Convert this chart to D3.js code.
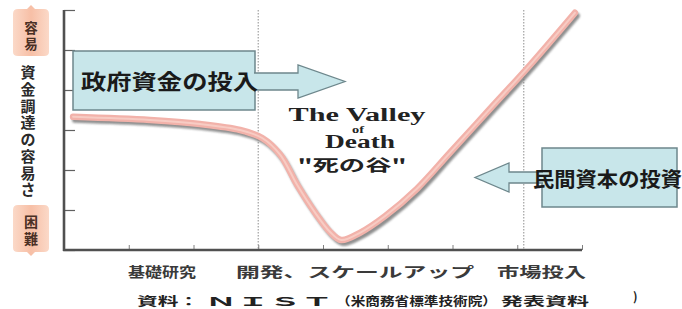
<!DOCTYPE html>
<html><head><meta charset="utf-8">
<script src="https://cdn.jsdelivr.net/npm/d3@7"></script>
<style>body{margin:0;background:#fff}svg{display:block}</style>
</head><body><svg id="c" width="682" height="309"></svg>
<script>
// ---- data ----
const stageLabels = ["基礎研究", "開発、スケールアップ", "市場投入"];
const stageBoundaries = [3.0, 7.1];
const xTicks = [0, 1, 2, 3, 4, 5, 6, 7, 8];
const yTicks = [0, 1, 2, 3, 4, 5, 6];
const curveX = [0.14, 1.33, 2.10, 2.72, 3.06, 3.34, 3.60, 3.88, 4.11, 4.28, 4.57, 4.96, 5.45, 5.96, 6.58, 7.20, 7.89];
const curveY = [3.33, 3.25, 3.15, 3.00, 2.80, 2.38, 1.63, 0.93, 0.45, 0.25, 0.43, 0.85, 1.53, 2.43, 3.53, 4.63, 5.93];
const yAxisTitle = "資金調達の容易さ";
const yTopLabel = "容易";
const yBottomLabel = "困難";
const govLabel = "政府資金の投入";
const privLabel = "民間資本の投資";
const valleyLines = ["The Valley", "of", "Death", "\"死の谷\""];
const sourceParts = ["資料：", "ＮＩＳＴ", "（米商務省標準技術院）", "発表資料"];

// ---- layout ----
const svg = d3.select("#c");
const JP = "'Noto Sans CJK JP','Noto Sans',sans-serif";
const x = d3.scaleLinear().domain([0, 8]).range([64, 582]);
const y = d3.scaleLinear().domain([0, 6]).range([250, 10]);

const defs = svg.append("defs");
defs.append("filter").attr("id", "blur").append("feGaussianBlur").attr("stdDeviation", 0.9);
const lg = defs.append("linearGradient").attr("id", "peach").attr("x1", 0).attr("x2", 1);
lg.append("stop").attr("offset", 0).attr("stop-color", "#fbd9c8");
lg.append("stop").attr("offset", 0.5).attr("stop-color", "#f7bfa6");
lg.append("stop").attr("offset", 1).attr("stop-color", "#fbd9c8");

// left peach markers
svg.append("path")
  .attr("d", "M13,14 Q13,9 18,9 L27,9 L31,5 L35,9 L44,9 Q49,9 49,14 L49,52 Q49,56 44,56 L18,56 Q13,56 13,52 Z")
  .attr("fill", "url(#peach)");
svg.append("path")
  .attr("d", "M13,210 Q13,205 18,205 L44,205 Q49,205 49,210 L49,248 Q49,252 44,252 L35,252 L31,256 L27,252 L18,252 Q13,252 13,248 Z")
  .attr("fill", "url(#peach)");
[...yTopLabel].forEach((ch, i) => svg.append("text").attr("x", 31).attr("y", 27 + i * 16)
  .attr("text-anchor", "middle").attr("dominant-baseline", "central")
  .attr("font-family", JP).attr("font-weight", 700).attr("font-size", 13.5).attr("fill", "#4a3025").text(ch));
[...yBottomLabel].forEach((ch, i) => svg.append("text").attr("x", 31).attr("y", 221 + i * 17)
  .attr("text-anchor", "middle").attr("dominant-baseline", "central")
  .attr("font-family", JP).attr("font-weight", 700).attr("font-size", 14).attr("fill", "#4a3025").text(ch));
[...yAxisTitle].forEach((ch, i) => svg.append("text").attr("x", 28).attr("y", 71.5 + i * 16.75)
  .attr("text-anchor", "middle").attr("dominant-baseline", "central")
  .attr("font-family", JP).attr("font-weight", 700).attr("font-size", 15).attr("fill", "#2a2a2a").text(ch));

// dotted stage boundaries
svg.selectAll("line.stage").data(stageBoundaries).enter().append("line")
  .attr("x1", d => x(d)).attr("x2", d => x(d)).attr("y1", y(6)).attr("y2", y(0))
  .attr("stroke", "#a8a8a8").attr("stroke-width", 1.3).attr("stroke-dasharray", "1.5,1.5");

// axes
const yAxis = d3.axisRight(y).tickValues(yTicks).tickSize(11).tickFormat("");
const gy = svg.append("g").attr("transform", `translate(${x(0)},0)`).call(yAxis);
gy.select(".domain").remove();
gy.selectAll(".tick line").attr("stroke", "#606060").attr("stroke-width", 1.2);
const xAxis = d3.axisTop(x).tickValues(xTicks).tickSize(5).tickFormat("");
const gx = svg.append("g").attr("transform", `translate(0,${y(0)})`).call(xAxis);
gx.select(".domain").remove();
gx.selectAll(".tick line").attr("stroke", "#808080").attr("stroke-width", 1);
svg.append("line").attr("x1", x(0)).attr("x2", x(0)).attr("y1", y(6)).attr("y2", y(0) + 1)
  .attr("stroke", "#505050").attr("stroke-width", 2.6);
svg.append("line").attr("x1", x(0) - 1).attr("x2", x(8)).attr("y1", y(0)).attr("y2", y(0))
  .attr("stroke", "#505050").attr("stroke-width", 2.6);

// curve
const pts = curveX.map((v, i) => [v, curveY[i]]);
const line = d3.line().x(d => x(d[0])).y(d => y(d[1])).curve(d3.curveCatmullRom.alpha(0.5));
svg.append("path").attr("d", line(pts)).attr("transform", "translate(2,3)")
  .attr("fill", "none").attr("stroke", "#7c7c7c").attr("stroke-width", 6)
  .attr("stroke-linecap", "round").attr("filter", "url(#blur)").attr("opacity", 0.85);
svg.append("path").attr("d", line(pts))
  .attr("fill", "none").attr("stroke", "#f2b2aa").attr("stroke-width", 6.5).attr("stroke-linecap", "round");
svg.append("path").attr("d", line(pts))
  .attr("fill", "none").attr("stroke", "#f7ccc4").attr("stroke-width", 2).attr("stroke-linecap", "round");

// government funding box + arrow
const boxFill = "#c8e6ea", boxStroke = "#6d878c";
svg.append("rect").attr("x", 73).attr("y", 51).attr("width", 182).attr("height", 59)
  .attr("fill", boxFill).attr("stroke", boxStroke).attr("stroke-width", 1.5);
svg.append("path").attr("d", "M254,73 L298,73 L298,65 L345,81.5 L298,98 L298,90 L254,90")
  .attr("fill", boxFill).attr("stroke", boxStroke).attr("stroke-width", 1.3);
svg.append("text").attr("x", 81).attr("y", 89).attr("textLength", 177).attr("lengthAdjust", "spacingAndGlyphs")
  .attr("font-family", JP).attr("font-weight", 700).attr("font-size", 21).attr("fill", "#1a1a1a").text(govLabel);

// private investment box + arrow
svg.append("rect").attr("x", 542).attr("y", 148).attr("width", 135).attr("height", 59)
  .attr("fill", boxFill).attr("stroke", boxStroke).attr("stroke-width", 1.5);
svg.append("path").attr("d", "M543,172 L509,172 L509,163 L475,177.5 L509,192 L509,183 L543,183")
  .attr("fill", boxFill).attr("stroke", boxStroke).attr("stroke-width", 1.3);
svg.append("text").attr("x", 533).attr("y", 187).attr("textLength", 149).attr("lengthAdjust", "spacingAndGlyphs")
  .attr("font-family", JP).attr("font-weight", 700).attr("font-size", 20).attr("fill", "#1a1a1a").text(privLabel);

// valley text
const vSpec = [
  { cx: 357, by: 121, size: 18, len: 137, font: "'Liberation Serif',serif" },
  { cx: 358, by: 133, size: 11, len: 12, font: "'Liberation Serif',serif" },
  { cx: 360, by: 148, size: 18, len: 70, font: "'Liberation Serif',serif" },
  { cx: 352, by: 171, size: 16, len: 109, font: JP }
];
valleyLines.forEach((t, i) => {
  const s = vSpec[i];
  svg.append("text").attr("x", s.cx - s.len / 2).attr("y", s.by).attr("textLength", s.len)
    .attr("lengthAdjust", "spacingAndGlyphs").attr("font-family", s.font).attr("font-weight", 700)
    .attr("font-size", s.size).attr("fill", "#222").text(t);
});

// stage labels
const stageSpan = [[128, 196], [236, 474], [497, 586]];
stageLabels.forEach((t, i) => {
  svg.append("text").attr("x", stageSpan[i][0]).attr("y", 277).attr("textLength", stageSpan[i][1] - stageSpan[i][0])
    .attr("lengthAdjust", "spacingAndGlyphs").attr("font-family", JP).attr("font-weight", 700)
    .attr("font-size", 14).attr("fill", "#3a3a3a").text(t);
});

// source
const srcSpan = [[137, 199], [205, 333], [336, 497], [501, 589]];
sourceParts.forEach((t, i) => {
  svg.append("text").attr("x", srcSpan[i][0]).attr("y", 306).attr("textLength", srcSpan[i][1] - srcSpan[i][0])
    .attr("lengthAdjust", "spacingAndGlyphs").attr("font-family", JP).attr("font-weight", 700)
    .attr("font-size", 12).attr("fill", "#222").text(t);
});
svg.append("text").attr("x", 633).attr("y", 301).attr("font-family", JP).attr("font-weight", 700)
  .attr("font-size", 12).attr("fill", "#222").text(")");
</script></body></html>
